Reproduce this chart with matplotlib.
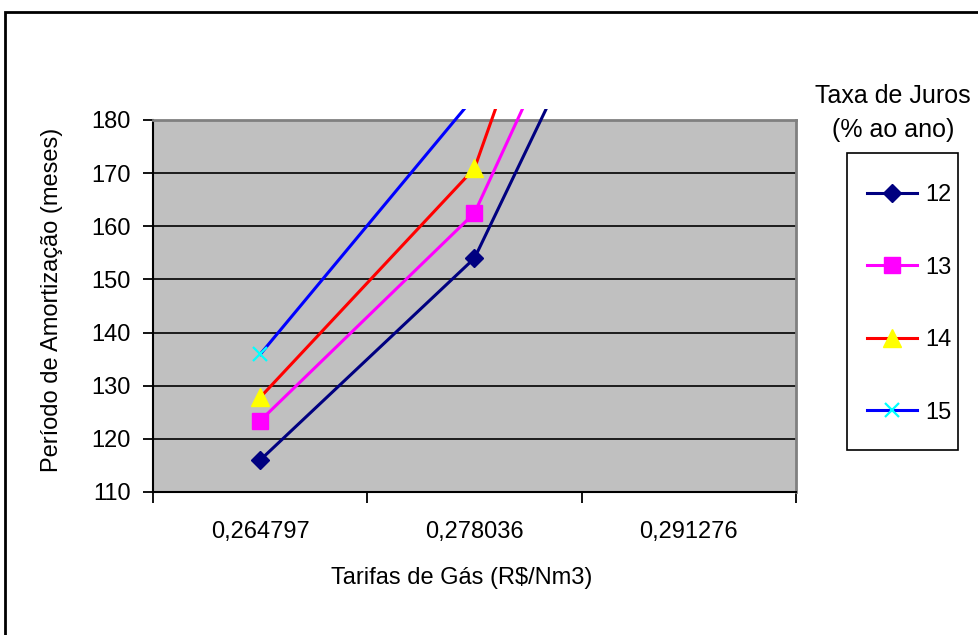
import matplotlib
matplotlib.use("Agg")
import matplotlib.pyplot as plt
from matplotlib.patches import Rectangle

plt.rcParams['font.family'] = ['Liberation Sans', 'DejaVu Sans']

# tarifas (R$/Nm3) and payback period (months) for each interest rate
tarifas = ["0,264797", "0,278036", "0,291276"]
juros = ["12", "13", "14", "15"]
meses_12 = [116.0, 154.0, 238.0]
meses_13 = [123.4, 162.5, 250.0]
meses_14 = [127.8, 170.9, 285.0]
meses_15 = [135.9, 184.4, 230.0]

cores = ["#000080", "#FF00FF", "#FF0000", "#0000FF"]
marc = ["D", "s", "^", "x"]
marc_cor = ["#000080", "#FF00FF", "#FFFF00", "#00FFFF"]
marc_tam = [9, 11, 13, 10]
fs = 17

W, H = 979, 635
fig = plt.figure(figsize=(W / 100, H / 100), dpi=100)
ax = fig.add_axes([153 / W, 1 - 492 / H, (796 - 153) / W, (492 - 120) / H])
ax.set_facecolor("#C0C0C0")

# lines may run a little past the top of the plot area, like Excel does
clip = Rectangle((0, -0.05), 1, 1.05 + 11 / 372, transform=ax.transAxes,
                 facecolor="none", edgecolor="none")
ax.add_patch(clip)

x = list(range(len(tarifas)))
series = [meses_12, meses_13, meses_14, meses_15]
for i, vals in enumerate(series):
    ln, = ax.plot(x, vals, color=cores[i], lw=2.2, marker=marc[i],
                  ms=marc_tam[i], mfc=marc_cor[i], mec=marc_cor[i],
                  mew=1.6 if marc[i] == "x" else 1, label=juros[i], zorder=3)
    ln.set_clip_path(clip)

ax.set_xlim(-0.5, len(tarifas) - 0.5)
ax.set_ylim(110, 180)
ax.set_yticks(range(110, 181, 10))
ax.set_xticks([i - 0.5 for i in range(len(tarifas) + 1)])
ax.set_xticklabels([])
ax.set_xticks(x, minor=True)
ax.set_xticklabels(tarifas, minor=True)
ax.tick_params(axis="x", which="major", direction="out", length=8, width=1.3)
ax.tick_params(axis="x", which="minor", length=0, pad=21, labelsize=fs)
ax.tick_params(axis="y", direction="out", length=7, width=1.3, labelsize=fs, pad=9)

ax.set_axisbelow(True)
ax.yaxis.grid(True, color="black", lw=1.2)
for s in ["top", "right"]:
    ax.spines[s].set_color("#808080")
    ax.spines[s].set_linewidth(2)
for s in ["left", "bottom"]:
    ax.spines[s].set_color("black")
    ax.spines[s].set_linewidth(1.5)

fig.text(52 / W, 1 - 300 / H, "Período de Amortização (meses)", rotation=90,
         ha="center", va="center", fontsize=fs)
fig.text(462 / W, 1 - 578 / H, "Tarifas de Gás (R$/Nm3)",
         ha="center", va="center", fontsize=fs)

# legend title sits above the legend box
fig.text(893 / W, 1 - 96 / H, "Taxa de Juros", ha="center", va="center", fontsize=18)
fig.text(893 / W, 1 - 130 / H, "(% ao ano)", ha="center", va="center", fontsize=18)
leg = fig.legend(loc="upper left", bbox_to_anchor=(867 / W, 1 - 184 / H),
                 fontsize=fs, frameon=False, handlelength=2.1,
                 handletextpad=0.35, labelspacing=2.14, borderpad=0,
                 borderaxespad=0)
# legend box drawn separately so its size can be set
fig.add_artist(Rectangle((847 / W, 1 - 450 / H), (958 - 847) / W, (450 - 153) / H,
                         transform=fig.transFigure, fill=False, lw=1.2, ec="black"))

# outer chart border
fig.add_artist(Rectangle((5 / W, -0.1), 1.2, (H - 12) / H + 0.1,
                         transform=fig.transFigure, fill=False, lw=2, ec="black"))

fig.savefig("out.png", dpi=100)
